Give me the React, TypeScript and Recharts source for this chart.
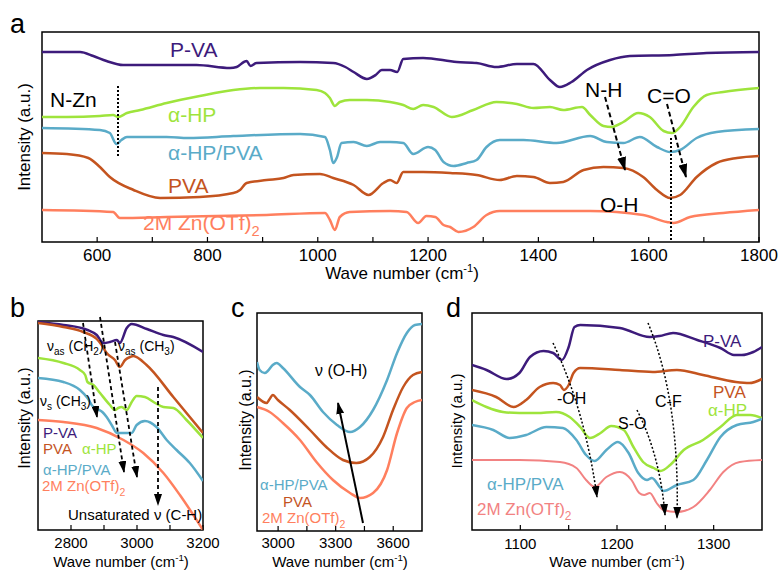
import React from 'react'
import { LineChart, Line, XAxis, YAxis, ReferenceArea } from 'recharts'

type Pt = [number, number]

const W = 781
const H = 572
const FONT = '"Liberation Sans", Arial, sans-serif'

const PURPLE = '#3d1b7b'
const GREEN = '#9ee43c'
const BLUE = '#5aabc8'
const RUST = '#c4541f'
const SALMON = '#ff7f5e'
const PINK = '#f28282'

// ---- panel a: 500-1800 cm-1 ----
const aPvaDash: Pt[] = [
  [500, 190], [569, 190], [593, 186], [617, 181], [647, 177], [700, 177], [780, 177], [841, 174],
  [853, 175], [866, 180], [871, 181], [878, 176], [889, 179], [968, 180], [1028, 179], [1050, 175],
  [1065, 170], [1089, 163], [1105, 167], [1116, 172], [1131, 172], [1144, 170], [1155, 183], [1191, 184],
  [1252, 180], [1288, 179], [1324, 175], [1361, 178], [1391, 178], [1421, 162], [1439, 155], [1460, 160],
  [1488, 172], [1530, 182], [1566, 186], [1645, 187], [1705, 189], [1800, 190],
]
const aHp: Pt[] = [
  [500, 125], [545, 125], [605, 126], [629, 127], [638, 125], [654, 129], [678, 132], [726, 139],
  [786, 146], [847, 152], [895, 154], [938, 154], [998, 152], [1013, 149], [1022, 144], [1031, 136],
  [1040, 140], [1058, 142], [1089, 142], [1131, 140], [1155, 137], [1173, 133], [1191, 137], [1210, 135],
  [1243, 125], [1282, 132], [1324, 140], [1361, 138], [1391, 134], [1421, 135], [1445, 132], [1479, 135],
  [1494, 127], [1518, 116], [1533, 115], [1554, 120], [1581, 129], [1602, 125], [1627, 111], [1642, 109],
  [1657, 115], [1681, 135], [1705, 147], [1735, 150], [1800, 154],
]
const aHpPva: Pt[] = [
  [500, 114], [605, 112], [623, 109], [635, 98], [644, 102], [654, 105], [726, 105], [765, 104],
  [847, 106], [968, 108], [1013, 105], [1022, 92], [1028, 79], [1035, 85], [1043, 99], [1065, 100],
  [1089, 96], [1113, 100], [1131, 100], [1155, 99], [1173, 88], [1200, 95], [1213, 92], [1228, 80],
  [1246, 76], [1270, 79], [1288, 82], [1306, 95], [1330, 102], [1373, 102], [1433, 99], [1494, 106],
  [1524, 100], [1554, 99], [1584, 105], [1615, 95], [1639, 90], [1657, 92], [1687, 104], [1723, 110],
  [1800, 113],
]
const aPva: Pt[] = [
  [500, 89], [545, 88], [584, 84], [605, 75], [623, 65], [666, 52], [714, 44], [786, 45],
  [847, 49], [859, 52], [871, 59], [907, 62], [938, 64], [956, 67], [1004, 68], [1028, 64],
  [1065, 57], [1092, 47], [1119, 59], [1131, 62], [1143, 59], [1155, 70], [1191, 70], [1240, 69],
  [1288, 67], [1330, 62], [1361, 66], [1391, 65], [1421, 59], [1445, 60], [1482, 72], [1518, 75],
  [1554, 74], [1590, 65], [1615, 52], [1639, 44], [1657, 47], [1687, 65], [1723, 79], [1760, 84],
  [1800, 86],
]
const aZn: Pt[] = [
  [500, 32], [629, 30], [641, 24], [726, 25], [907, 27], [1013, 29], [1022, 22], [1031, 12],
  [1040, 25], [1058, 30], [1131, 31], [1161, 30], [1182, 19], [1197, 26], [1213, 25], [1228, 17],
  [1240, 15], [1255, 10], [1282, 15], [1306, 27], [1330, 31], [1494, 31], [1590, 27], [1633, 20],
  [1645, 19], [1675, 25], [1735, 29], [1800, 32],
]
const aTicks = [600, 700, 800, 900, 1000, 1100, 1200, 1300, 1400, 1500, 1600, 1700, 1800]
const aTickLabels = [600, 800, 1000, 1200, 1400, 1600, 1800]

// ---- panel b: 2700-3200 cm-1 ----
const bPvaDash: Pt[] = [
  [2700, 208], [2777, 205], [2850, 200], [2878, 195], [2898, 187], [2918, 188], [2939, 190], [2948, 187],
  [2969, 202], [2984, 206], [3030, 201], [3080, 195], [3110, 193], [3200, 178],
]
const bPva: Pt[] = [
  [2700, 207], [2777, 203], [2837, 198], [2878, 191], [2893, 185], [2908, 177], [2933, 170], [2948, 163],
  [2964, 170], [2979, 173], [2989, 174], [3029, 165], [3110, 133], [3200, 97],
]
const bHp: Pt[] = [
  [2700, 172], [2777, 167], [2827, 160], [2843, 155], [2850, 148], [2868, 145], [2888, 137], [2918, 125],
  [2933, 120], [2943, 122], [2953, 123], [2969, 120], [2984, 128], [2999, 134], [3024, 133], [3055, 127],
  [3080, 123], [3110, 122], [3150, 110], [3200, 92],
]
const bHpPva: Pt[] = [
  [2700, 152], [2777, 148], [2827, 140], [2850, 132], [2865, 124], [2880, 121], [2895, 118], [2908, 113],
  [2925, 104], [2939, 97], [2969, 97], [2984, 97], [2999, 105], [3024, 109], [3059, 103], [3090, 90],
  [3120, 80], [3160, 67], [3200, 49],
]
const bZn: Pt[] = [
  [2700, 110], [2777, 108], [2878, 102], [2959, 90], [3019, 77], [3080, 57], [3130, 35], [3200, 0],
]
const bTicks = [2800, 2900, 3000, 3100, 3200]
const bTickLabels = [2800, 3000, 3200]

// ---- panel c: 2890-3750 cm-1 ----
const cHpPva: Pt[] = [
  [2890, 169], [2904, 161], [2930, 158], [2946, 160], [2972, 166], [2993, 168], [3025, 163], [3114, 144],
  [3166, 136], [3234, 119], [3307, 106], [3375, 99], [3427, 104], [3495, 121], [3568, 151], [3620, 178],
  [3671, 198], [3713, 206], [3750, 207],
]
const cPva: Pt[] = [
  [2890, 134], [2940, 128], [2956, 132], [2972, 136], [2999, 131], [3061, 121], [3166, 101], [3251, 84],
  [3338, 71], [3408, 68], [3478, 74], [3547, 94], [3599, 121], [3652, 144], [3703, 156], [3750, 159],
]
const cZn: Pt[] = [
  [2890, 124], [2956, 119], [3025, 108], [3114, 91], [3200, 69], [3286, 51], [3375, 38], [3427, 33],
  [3495, 38], [3568, 61], [3620, 98], [3671, 123], [3713, 129], [3750, 131],
]
const cTicks = [3000, 3150, 3300, 3450, 3600]
const cTickLabels = [3000, 3300, 3600]

// ---- panel d: 1050-1350 cm-1 ----
const dPvaDash: Pt[] = [
  [1050, 165], [1065, 160], [1086, 151], [1099, 157], [1110, 173], [1124, 179], [1134, 177], [1143, 170],
  [1150, 183], [1156, 203], [1162, 205], [1203, 202], [1234, 193], [1244, 194], [1258, 197], [1283, 190],
  [1307, 182], [1321, 175], [1329, 175], [1341, 178], [1350, 183],
]
const dPva: Pt[] = [
  [1050, 140], [1075, 133], [1093, 123], [1106, 130], [1120, 143], [1134, 147], [1141, 145], [1145, 140],
  [1150, 145], [1155, 157], [1162, 162], [1203, 160], [1237, 158], [1262, 160], [1289, 155], [1323, 148],
  [1337, 147], [1350, 151],
]
const dHp: Pt[] = [
  [1050, 130], [1065, 123], [1082, 118], [1099, 117], [1117, 117], [1137, 118], [1151, 113], [1162, 103],
  [1172, 92], [1183, 97], [1194, 104], [1207, 100], [1217, 83], [1227, 68], [1238, 62], [1245, 59],
  [1255, 65], [1269, 80], [1289, 90], [1307, 103], [1324, 115], [1338, 115], [1350, 112],
]
const dHpPva: Pt[] = [
  [1050, 105], [1072, 100], [1089, 92], [1106, 95], [1127, 103], [1144, 102], [1158, 90], [1168, 75],
  [1177, 69], [1189, 80], [1201, 88], [1212, 77], [1222, 57], [1231, 50], [1236, 52], [1245, 42],
  [1248, 39], [1262, 45], [1279, 50], [1293, 70], [1307, 93], [1324, 105], [1341, 108], [1350, 111],
]
const dZn: Pt[] = [
  [1050, 70], [1099, 70], [1141, 68], [1158, 62], [1168, 50], [1177, 43], [1189, 53], [1203, 58],
  [1215, 50], [1223, 37], [1228, 35], [1234, 37], [1241, 27], [1248, 20], [1262, 18], [1279, 23],
  [1296, 40], [1310, 58], [1327, 68], [1350, 70],
]
const dTicks = [1100, 1150, 1200, 1250, 1300]
const dTickLabels = [1100, 1200, 1300]

type SeriesDef = { name: string; data: Pt[]; color: string; width?: number }

const toRows = (pts: Pt[]) => pts.map(([x, y]) => ({ x, y }))

function InTick(props: any) {
  const { x, y, payload, labels, fontSize, gap } = props
  const show = labels.includes(payload.value)
  return (
    <g>
      <line x1={x} x2={x} y1={y} y2={y - 5} stroke="#000" strokeWidth={1.2} />
      {show && (
        <text x={x} y={y + gap} textAnchor="middle" fontSize={fontSize} fontFamily={FONT} fill="#000">
          {payload.value}
        </text>
      )}
    </g>
  )
}

type PanelProps = {
  box: [number, number, number, number]
  xDomain: [number, number]
  yDomain: [number, number]
  ticks: number[]
  labels: number[]
  fontSize: number
  gap: number
  series: SeriesDef[]
}

function Panel({ box, xDomain, yDomain, ticks, labels, fontSize, gap, series }: PanelProps) {
  const [l, t, r, b] = box
  return (
    <div style={{ position: 'absolute', left: 0, top: 0 }}>
      <LineChart width={W} height={H} margin={{ top: t, left: l, right: W - r, bottom: H - b - 30 }}>
        <XAxis
          type="number"
          dataKey="x"
          domain={xDomain}
          ticks={ticks}
          interval={0}
          allowDataOverflow
          axisLine={false}
          tickLine={false}
          tickSize={0}
          tickMargin={0}
          height={30}
          tick={(p: any) => <InTick {...p} labels={labels} fontSize={fontSize} gap={gap} />}
        />
        <YAxis type="number" domain={yDomain} allowDataOverflow hide />
        {series.map((s) => (
          <Line
            key={s.name}
            data={toRows(s.data)}
            dataKey="y"
            type="monotone"
            stroke={s.color}
            strokeWidth={s.width ?? 2.5}
            dot={false}
            activeDot={false}
            isAnimationActive={false}
          />
        ))}
        <ReferenceArea
          x1={xDomain[0]}
          x2={xDomain[1]}
          y1={yDomain[0]}
          y2={yDomain[1]}
          fill="none"
          fillOpacity={0}
          stroke="#000"
          strokeWidth={1.5}
          ifOverflow="visible"
        />
      </LineChart>
    </div>
  )
}

function Title({ x, y, s }: { x: number; y: number; s: number }) {
  return (
    <text x={x} y={y} fontSize={s} textAnchor="middle">
      Wave number (cm<tspan dy={-s * 0.4} fontSize={s * 0.65}>-1</tspan>
      <tspan dy={s * 0.4}>)</tspan>
    </text>
  )
}

function YLabel({ x, y, s }: { x: number; y: number; s: number }) {
  return (
    <text transform={`translate(${x},${y}) rotate(-90)`} fontSize={s} textAnchor="middle">
      Intensity (a.u.)
    </text>
  )
}

function ZnLabel({ x, y, s, c }: { x: number; y: number; s: number; c: string }) {
  return (
    <text x={x} y={y} fontSize={s} fill={c}>
      2M Zn(OTf)<tspan dy={s * 0.3} fontSize={s * 0.7}>2</tspan>
    </text>
  )
}

function Nu({ x, y, sub, group, sub2 }: { x: number; y: number; sub: string; group: string; sub2: string }) {
  return (
    <text x={x} y={y} fontSize={14}>
      ν<tspan dy={4} fontSize={10}>{sub}</tspan>
      <tspan dy={-4}> ({group}</tspan>
      <tspan dy={4} fontSize={10}>{sub2}</tspan>
      <tspan dy={-4}>)</tspan>
    </text>
  )
}

function Overlay() {
  return (
    <svg width={W} height={H} style={{ position: 'absolute', left: 0, top: 0, pointerEvents: 'none' }} fontFamily={FONT}>
      <defs>
        <marker id="ah" viewBox="0 0 14 9" refX={13} refY={4.5} markerWidth={14} markerHeight={9} markerUnits="userSpaceOnUse" orient="auto">
          <path d="M0,0 L14,4.5 L0,9 z" fill="#000" />
        </marker>
        <marker id="ahs" viewBox="0 0 12 8" refX={11} refY={4} markerWidth={12} markerHeight={8} markerUnits="userSpaceOnUse" orient="auto">
          <path d="M0,0 L12,4 L0,8 z" fill="#000" />
        </marker>
      </defs>

      {/* panel a */}
      <text x={10} y={33} fontSize={27}>a</text>
      <text x={170} y={57} fontSize={21} fill={PURPLE}>P-VA</text>
      <text x={50} y={107} fontSize={21}>N-Zn</text>
      <text x={168} y={122} fontSize={21} fill={GREEN}>α-HP</text>
      <text x={168} y={160} fontSize={21} fill={BLUE}>α-HP/PVA</text>
      <text x={168} y={193} fontSize={21} fill={RUST}>PVA</text>
      <ZnLabel x={143} y={230} s={21} c={SALMON} />
      <text x={585} y={97} fontSize={21}>N-H</text>
      <text x={647} y={103} fontSize={21}>C=O</text>
      <text x={600} y={212} fontSize={21}>O-H</text>
      <line x1={118} y1={86} x2={118} y2={157} stroke="#000" strokeWidth={2} strokeDasharray="2 2" />
      <line x1={671} y1={138} x2={671} y2={242} stroke="#000" strokeWidth={2} strokeDasharray="2 2" />
      <line x1={605} y1={97} x2={625} y2={170} stroke="#000" strokeWidth={2} strokeDasharray="5 3" markerEnd="url(#ah)" />
      <line x1={667} y1={104} x2={686} y2={177} stroke="#000" strokeWidth={2} strokeDasharray="5 3" markerEnd="url(#ah)" />
      <Title x={402} y={279} s={17} />
      <YLabel x={30} y={137} s={17} />

      {/* panel b */}
      <text x={10} y={317} fontSize={27}>b</text>
      <Nu x={47} y={351} sub="as" group="CH" sub2="2" />
      <Nu x={118} y={351} sub="as" group="CH" sub2="3" />
      <Nu x={40} y={406} sub="s" group="CH" sub2="3" />
      <text x={43} y={438} fontSize={15} fill={PURPLE}>P-VA</text>
      <text x={43} y={454} fontSize={15} fill={RUST}>PVA</text>
      <text x={82} y={454} fontSize={15} fill={GREEN}>α-HP</text>
      <text x={43} y={475} fontSize={15} fill={BLUE}>α-HP/PVA</text>
      <ZnLabel x={42} y={491} s={15} c={SALMON} />
      <text x={68} y={520} fontSize={15}>Unsaturated ν (C-H)</text>
      <line x1={83} y1={323} x2={97} y2={417} stroke="#000" strokeWidth={1.8} strokeDasharray="4 3" markerEnd="url(#ahs)" />
      <line x1={100} y1={317} x2={124} y2={472} stroke="#000" strokeWidth={1.8} strokeDasharray="4 3" markerEnd="url(#ahs)" />
      <line x1={115} y1={342} x2={137} y2={477} stroke="#000" strokeWidth={1.8} strokeDasharray="4 3" markerEnd="url(#ahs)" />
      <line x1={158} y1={387} x2={158} y2={505} stroke="#000" strokeWidth={1.8} strokeDasharray="4 3" markerEnd="url(#ahs)" />
      <Title x={121} y={567} s={15} />
      <YLabel x={30} y={418} s={16} />

      {/* panel c */}
      <text x={231} y={317} fontSize={27}>c</text>
      <text x={315} y={376} fontSize={16}>ν (O-H)</text>
      <line x1={363} y1={523} x2={338} y2={403} stroke="#000" strokeWidth={2} markerEnd="url(#ahs)" />
      <text x={260} y={490} fontSize={15} fill={BLUE}>α-HP/PVA</text>
      <text x={283} y={507} fontSize={15} fill={RUST}>PVA</text>
      <ZnLabel x={262} y={523} s={15} c={SALMON} />
      <Title x={340} y={567} s={15} />
      <YLabel x={251} y={420} s={16} />

      {/* panel d */}
      <text x={446} y={317} fontSize={27}>d</text>
      <text x={703} y={347} fontSize={17} fill={PURPLE}>P-VA</text>
      <text x={713} y={398} fontSize={17} fill={RUST}>PVA</text>
      <text x={708} y={416} fontSize={17} fill={GREEN}>α-HP</text>
      <text x={487} y={490} fontSize={17} fill={BLUE}>α-HP/PVA</text>
      <ZnLabel x={477} y={515} s={17} c={PINK} />
      <text x={557} y={404} fontSize={16}>-OH</text>
      <text x={618} y={429} fontSize={16}>S-O</text>
      <text x={655} y={407} fontSize={16}>C-F</text>
      <path d="M553,343 Q585,410 597,497" fill="none" stroke="#000" strokeWidth={1.5} strokeDasharray="2 2" markerEnd="url(#ahs)" />
      <path d="M637,410 Q660,455 665,515" fill="none" stroke="#000" strokeWidth={1.5} strokeDasharray="2 2" markerEnd="url(#ahs)" />
      <path d="M648,323 Q680,400 677,518" fill="none" stroke="#000" strokeWidth={1.5} strokeDasharray="2 2" markerEnd="url(#ahs)" />
      <Title x={617} y={567} s={15} />
      <YLabel x={462} y={421} s={15} />
    </svg>
  )
}

export default function App() {
  return (
    <div style={{ position: 'absolute', left: 0, top: 0, width: W, height: H, background: '#fff', fontFamily: FONT }}>
      <Panel
        box={[42, 32, 759, 242]}
        xDomain={[500, 1800]}
        yDomain={[0, 210]}
        ticks={aTicks}
        labels={aTickLabels}
        fontSize={17}
        gap={19}
        series={[
          { name: 'P-VA', data: aPvaDash, color: PURPLE },
          { name: 'α-HP', data: aHp, color: GREEN },
          { name: 'α-HP/PVA', data: aHpPva, color: BLUE },
          { name: 'PVA', data: aPva, color: RUST },
          { name: '2M Zn(OTf)2', data: aZn, color: SALMON },
        ]}
      />
      <Panel
        box={[38, 321, 203, 530]}
        xDomain={[2700, 3200]}
        yDomain={[0, 209]}
        ticks={bTicks}
        labels={bTickLabels}
        fontSize={15}
        gap={18}
        series={[
          { name: 'P-VA', data: bPvaDash, color: PURPLE },
          { name: 'PVA', data: bPva, color: RUST },
          { name: 'α-HP', data: bHp, color: GREEN },
          { name: 'α-HP/PVA', data: bHpPva, color: BLUE },
          { name: '2M Zn(OTf)2', data: bZn, color: SALMON },
        ]}
      />
      <Panel
        box={[257, 313, 422, 531]}
        xDomain={[2890, 3750]}
        yDomain={[0, 218]}
        ticks={cTicks}
        labels={cTickLabels}
        fontSize={15}
        gap={17}
        series={[
          { name: 'α-HP/PVA', data: cHpPva, color: BLUE },
          { name: 'PVA', data: cPva, color: RUST },
          { name: '2M Zn(OTf)2', data: cZn, color: SALMON },
        ]}
      />
      <Panel
        box={[472, 313, 762, 530]}
        xDomain={[1050, 1350]}
        yDomain={[0, 217]}
        ticks={dTicks}
        labels={dTickLabels}
        fontSize={15}
        gap={19}
        series={[
          { name: 'P-VA', data: dPvaDash, color: PURPLE },
          { name: 'PVA', data: dPva, color: RUST },
          { name: 'α-HP', data: dHp, color: GREEN },
          { name: 'α-HP/PVA', data: dHpPva, color: BLUE },
          { name: '2M Zn(OTf)2', data: dZn, color: PINK, width: 2 },
        ]}
      />
      <Overlay />
    </div>
  )
}
